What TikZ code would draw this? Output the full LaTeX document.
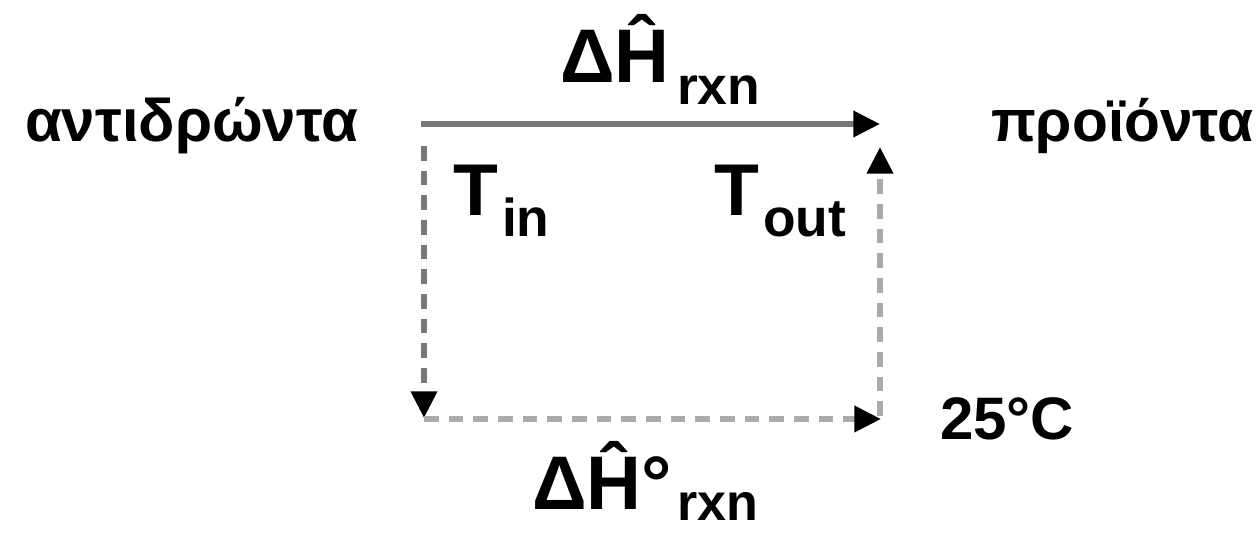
\documentclass[tikz,border=0pt]{standalone}
\usepackage{fontspec}
\setmainfont{Liberation Sans}
\usetikzlibrary{arrows.meta}
\tikzset{
  lbl/.style={anchor=base west,inner sep=0pt,outer sep=0pt,font=\bfseries},
  head/.style={-{Triangle[length=20pt,width=19pt,color=black]}},
  solidline/.style={draw=black!53,line width=4.5pt,head},
  dashline/.style={draw=black!53,line width=4.5pt,dash pattern=on 11pt off 7.5pt,head},
  dotline/.style={draw=black!33,line width=4.5pt,dash pattern=on 11pt off 7.5pt,head}
}
\begin{document}
\begin{tikzpicture}[x=0.75pt,y=-0.75pt]
\useasboundingbox (0,0) rectangle (1257,534);
% labels
\node[lbl,font=\bfseries\fontsize{45}{45}\selectfont] (react) at (25,142) {αντιδρώντα};
\node[lbl,font=\bfseries\fontsize{44}{44}\selectfont] (prod) at (991,142) {προϊόντα};
\node[lbl,font=\bfseries\fontsize{57}{57}\selectfont] (dh) at (560,83) {Δ\^{H}};
\node[lbl,font=\bfseries\fontsize{40}{40}\selectfont] (dhsub) at (677,105) {rxn};
\node[lbl,font=\bfseries\fontsize{55}{55}\selectfont] (tin) at (453,216) {T};
\node[lbl,font=\bfseries\fontsize{40}{40}\selectfont] (tinsub) at (502,237) {in};
\node[lbl,font=\bfseries\fontsize{55}{55}\selectfont] (tout) at (714,216) {T};
\node[lbl,font=\bfseries\fontsize{40}{40}\selectfont] (toutsub) at (763,237) {out};
\node[lbl,font=\bfseries\fontsize{45}{45}\selectfont] (ref) at (940,440) {25°C};
\node[lbl,font=\bfseries\fontsize{57}{57}\selectfont] (dh0) at (532,509) {Δ\^{H}°};
\node[lbl,font=\bfseries\fontsize{39}{39}\selectfont] (dh0sub) at (677,521) {rxn};
% connectors
\coordinate (tl) at (421,124);
\coordinate (tr) at (880,124);
\coordinate (ls) at (424,146);
\coordinate (le) at (424,418);
\coordinate (bs) at (424,419);
\coordinate (be) at (881,419);
\coordinate (rs) at (880,416);
\coordinate (re) at (880,147);
\draw[solidline] (tl) -- (tr);
\draw[dashline] (ls) -- (le);
\draw[dotline] (bs) -- (be);
\draw[dotline] (rs) -- (re);
\end{tikzpicture}
\end{document}
